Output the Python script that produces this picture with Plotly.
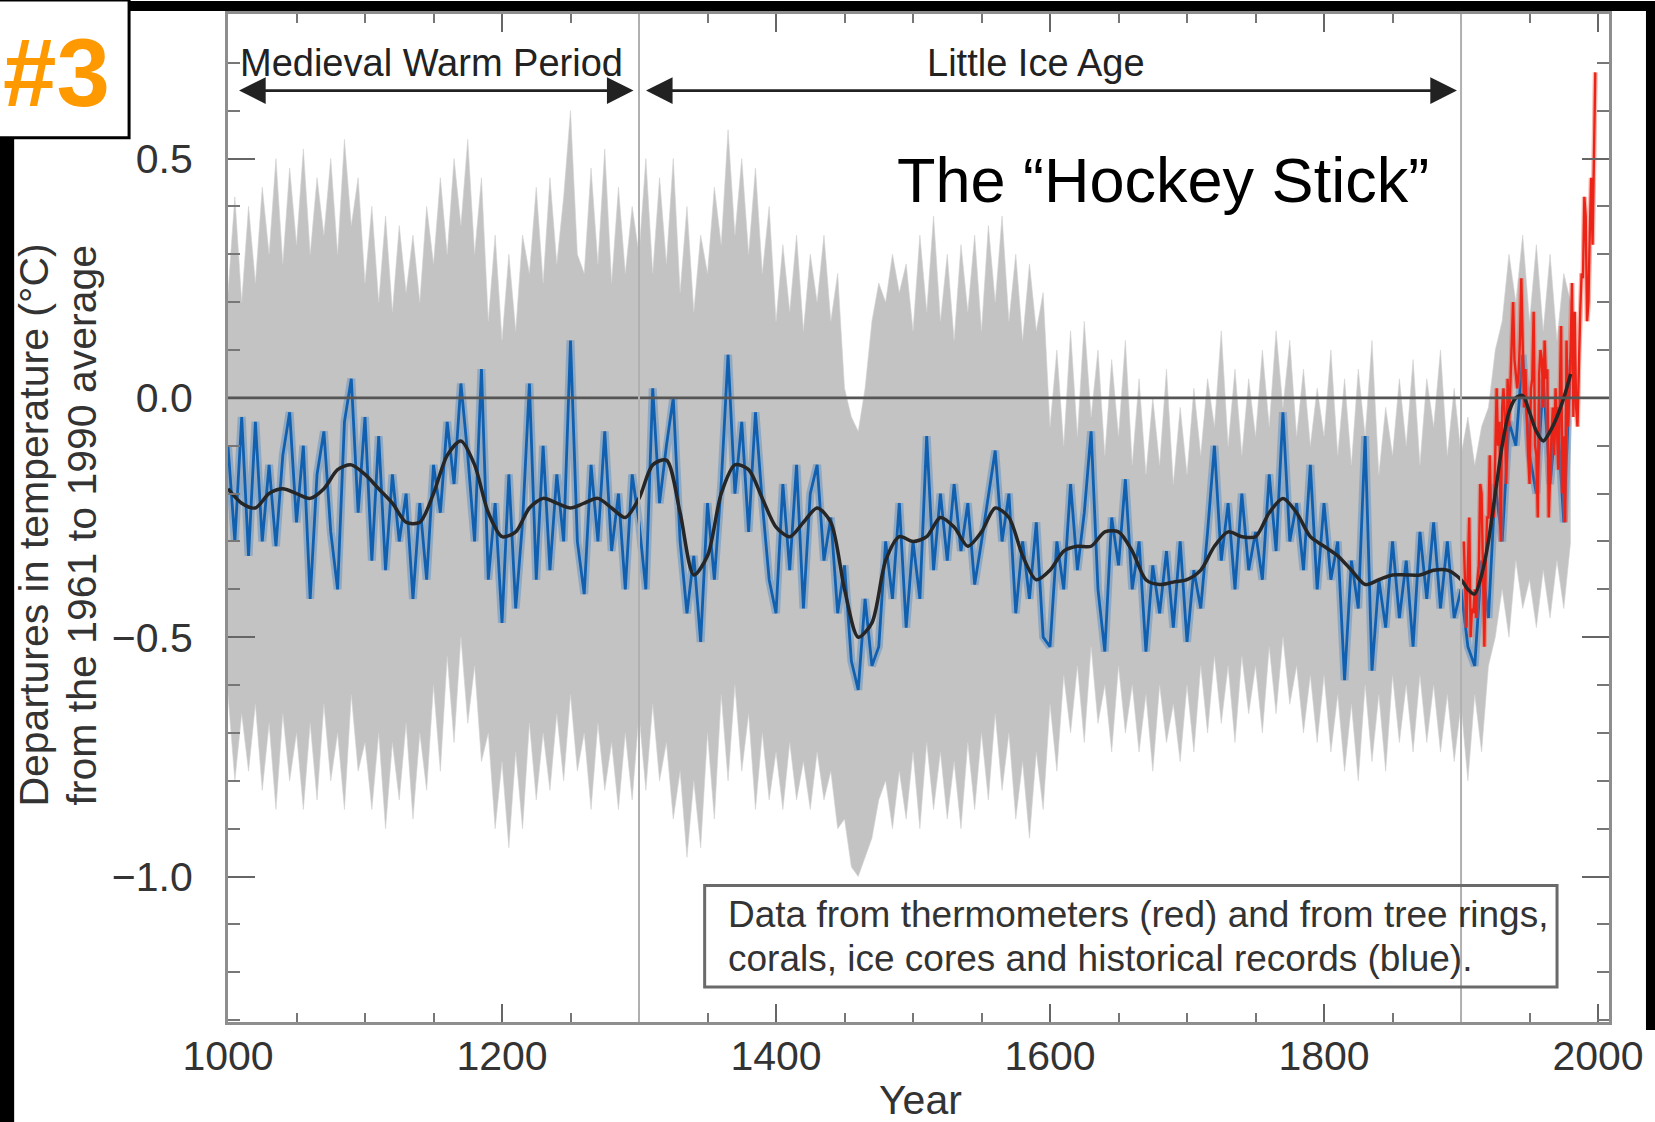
import plotly.graph_objects as go

# ---------------------------------------------------------------------------
# Data: northern-hemisphere temperature departures (deg C, vs 1961-1990 mean)
# ---------------------------------------------------------------------------
years5 = list(range(1000, 1981, 5))

# proxy reconstruction (tree rings, corals, ice cores, historical records)
proxy = [
    -0.10, -0.30, -0.04, -0.33, -0.05, -0.30, -0.14, -0.31, -0.12, -0.03,
    -0.26, -0.10, -0.42, -0.16, -0.07, -0.28, -0.40, -0.05, 0.04, -0.24,
    -0.04, -0.34, -0.08, -0.36, -0.16, -0.30, -0.20, -0.42, -0.22, -0.38,
    -0.14, -0.24, -0.05, -0.18, 0.03, -0.12, -0.30, 0.06, -0.38, -0.22,
    -0.47, -0.16, -0.44, -0.26, 0.03, -0.38, -0.10, -0.36, -0.16, -0.30,
    0.12, -0.30, -0.41, -0.14, -0.30, -0.07, -0.32, -0.20, -0.40, -0.16,
    -0.26, -0.40, 0.02, -0.22, -0.10, 0.00, -0.30, -0.45, -0.33, -0.51,
    -0.22, -0.38, -0.18, 0.09, -0.20, -0.05, -0.28, -0.03, -0.22, -0.38,
    -0.45, -0.18, -0.36, -0.14, -0.44, -0.20, -0.14, -0.34, -0.25, -0.45,
    -0.35, -0.55, -0.61, -0.42, -0.56, -0.52, -0.30, -0.42, -0.22, -0.48,
    -0.30, -0.42, -0.08, -0.36, -0.20, -0.34, -0.18, -0.32, -0.22, -0.39,
    -0.30, -0.20, -0.11, -0.30, -0.20, -0.45, -0.30, -0.42, -0.26, -0.50,
    -0.52, -0.30, -0.40, -0.18, -0.36, -0.24, -0.07, -0.40, -0.53, -0.25,
    -0.35, -0.17, -0.40, -0.30, -0.53, -0.35, -0.45, -0.32, -0.48, -0.30,
    -0.51, -0.36, -0.44, -0.28, -0.10, -0.34, -0.22, -0.40, -0.20, -0.36,
    -0.28, -0.38, -0.16, -0.32, -0.03, -0.30, -0.22, -0.36, -0.14, -0.40,
    -0.22, -0.38, -0.30, -0.59, -0.34, -0.44, -0.08, -0.57, -0.38, -0.48,
    -0.30, -0.46, -0.34, -0.52, -0.28, -0.42, -0.26, -0.44, -0.30, -0.46,
    -0.40, -0.52, -0.56, -0.34, -0.46, -0.18, -0.30, -0.05, -0.10, 0.09,
    -0.12, -0.20, 0.04, -0.18, -0.02, -0.26, 0.08,
]

# upper / lower limits of the uncertainty range
band_hi = [
    0.22, 0.42, 0.20, 0.40, 0.24, 0.44, 0.30, 0.50, 0.28, 0.48,
    0.32, 0.52, 0.30, 0.46, 0.34, 0.50, 0.30, 0.54, 0.36, 0.46,
    0.24, 0.40, 0.20, 0.38, 0.18, 0.36, 0.22, 0.34, 0.20, 0.40,
    0.28, 0.46, 0.30, 0.50, 0.36, 0.54, 0.30, 0.46, 0.16, 0.34,
    0.12, 0.30, 0.14, 0.34, 0.26, 0.44, 0.24, 0.46, 0.28, 0.42,
    0.60, 0.30, 0.26, 0.48, 0.28, 0.52, 0.24, 0.44, 0.26, 0.40,
    0.30, 0.50, 0.26, 0.46, 0.28, 0.50, 0.22, 0.40, 0.18, 0.34,
    0.26, 0.44, 0.32, 0.56, 0.34, 0.50, 0.30, 0.48, 0.26, 0.40,
    0.16, 0.32, 0.18, 0.34, 0.14, 0.30, 0.20, 0.34, 0.16, 0.26,
    0.02, -0.04, -0.07, 0.02, 0.16, 0.24, 0.20, 0.30, 0.22, 0.28,
    0.14, 0.34, 0.18, 0.38, 0.16, 0.30, 0.12, 0.32, 0.18, 0.34,
    0.14, 0.36, 0.20, 0.38, 0.16, 0.30, 0.12, 0.28, 0.14, 0.22,
    -0.06, 0.10, -0.10, 0.14, -0.08, 0.16, -0.04, 0.10, -0.12, 0.08,
    -0.08, 0.12, -0.14, 0.04, -0.16, 0.00, -0.14, 0.06, -0.18, -0.02,
    -0.16, 0.02, -0.12, 0.04, -0.06, 0.14, -0.10, 0.06, -0.12, 0.04,
    -0.08, 0.10, -0.06, 0.14, -0.02, 0.12, -0.08, 0.06, -0.10, 0.02,
    -0.08, 0.10, -0.12, 0.04, -0.14, 0.06, -0.08, 0.12, -0.16, -0.02,
    -0.12, 0.04, -0.10, 0.08, -0.14, 0.04, -0.06, 0.10, -0.12, 0.02,
    -0.12, -0.04, -0.14, -0.06, -0.02, 0.10, 0.16, 0.30, 0.20, 0.34,
    0.16, 0.32, 0.14, 0.30, 0.12, 0.26, 0.20,
]
band_lo = [
    -0.62, -0.80, -0.66, -0.78, -0.64, -0.82, -0.68, -0.86, -0.66, -0.80,
    -0.70, -0.86, -0.68, -0.84, -0.64, -0.80, -0.70, -0.86, -0.62, -0.78,
    -0.72, -0.86, -0.70, -0.90, -0.72, -0.84, -0.68, -0.88, -0.70, -0.82,
    -0.60, -0.78, -0.54, -0.72, -0.50, -0.68, -0.56, -0.76, -0.70, -0.90,
    -0.76, -0.94, -0.74, -0.90, -0.68, -0.84, -0.70, -0.82, -0.66, -0.80,
    -0.62, -0.78, -0.70, -0.86, -0.68, -0.82, -0.72, -0.86, -0.70, -0.84,
    -0.66, -0.82, -0.64, -0.80, -0.72, -0.88, -0.78, -0.96, -0.80, -0.94,
    -0.70, -0.88, -0.62, -0.80, -0.60, -0.78, -0.66, -0.86, -0.70, -0.84,
    -0.74, -0.86, -0.72, -0.84, -0.76, -0.86, -0.74, -0.84, -0.78, -0.90,
    -0.88, -0.98, -1.00, -0.96, -0.92, -0.84, -0.80, -0.90, -0.78, -0.88,
    -0.74, -0.90, -0.72, -0.86, -0.74, -0.88, -0.76, -0.90, -0.72, -0.86,
    -0.70, -0.84, -0.66, -0.82, -0.70, -0.88, -0.76, -0.92, -0.74, -0.86,
    -0.64, -0.78, -0.58, -0.70, -0.56, -0.72, -0.52, -0.68, -0.60, -0.74,
    -0.56, -0.70, -0.60, -0.74, -0.62, -0.78, -0.60, -0.72, -0.64, -0.76,
    -0.60, -0.74, -0.56, -0.70, -0.54, -0.68, -0.56, -0.72, -0.54, -0.66,
    -0.56, -0.70, -0.52, -0.66, -0.50, -0.64, -0.56, -0.70, -0.58, -0.72,
    -0.58, -0.74, -0.62, -0.78, -0.64, -0.80, -0.60, -0.76, -0.62, -0.78,
    -0.58, -0.72, -0.60, -0.74, -0.58, -0.72, -0.60, -0.74, -0.62, -0.76,
    -0.64, -0.80, -0.62, -0.74, -0.56, -0.50, -0.40, -0.50, -0.34, -0.44,
    -0.38, -0.48, -0.36, -0.46, -0.34, -0.44, -0.30,
]

# 40-year smoothed reconstruction
smooth_years = list(range(1000, 1900, 10)) + list(range(1900, 1981, 5))
smooth = [
    -0.19, -0.22, -0.23, -0.20, -0.19, -0.20, -0.21, -0.19, -0.15, -0.14,
    -0.16, -0.19, -0.22, -0.26, -0.26, -0.20, -0.12, -0.09, -0.14, -0.24,
    -0.29, -0.28, -0.23, -0.21, -0.22, -0.23, -0.22, -0.21, -0.23, -0.25,
    -0.21, -0.14, -0.13, -0.24, -0.37, -0.33, -0.20, -0.14, -0.15, -0.21,
    -0.27, -0.29, -0.26, -0.23, -0.26, -0.40, -0.50, -0.47, -0.34, -0.29,
    -0.30, -0.29, -0.25, -0.27, -0.31, -0.28, -0.23, -0.25, -0.33, -0.38,
    -0.36, -0.32, -0.31, -0.31, -0.28, -0.28, -0.32, -0.38, -0.39, -0.385,
    -0.38, -0.36, -0.31, -0.28, -0.29, -0.29, -0.24, -0.21, -0.24, -0.29,
    -0.31, -0.33, -0.36, -0.39, -0.38, -0.37, -0.37, -0.37, -0.36, -0.36,
    -0.38, -0.40, -0.41, -0.37, -0.30, -0.20, -0.10, -0.03, 0.00, 0.005,
    -0.03, -0.07, -0.09, -0.07, -0.04, 0.00, 0.05,
]

# thermometer record
instr_years = list(range(1902, 1999))
instr = [
    -0.30, -0.42, -0.48, -0.35, -0.25, -0.50, -0.44, -0.45, -0.40, -0.46,
    -0.38, -0.35, -0.18, -0.20, -0.38, -0.52, -0.35, -0.25, -0.25, -0.12,
    -0.26, -0.22, -0.25, -0.12, 0.02, -0.10, -0.05, -0.30, -0.02, 0.02,
    -0.04, -0.18, 0.04, -0.06, 0.02, 0.12, 0.20, 0.08, 0.05, 0.02,
    0.05, 0.12, 0.25, 0.08, -0.02, 0.06, -0.05, -0.12, -0.18, 0.02,
    0.04, 0.18, -0.10, -0.12, -0.25, 0.05, 0.10, 0.08, -0.02, 0.12,
    0.04, 0.06, -0.25, -0.15, -0.08, -0.02, -0.12, 0.02, -0.05, -0.15,
    -0.02, 0.15, -0.20, -0.08, -0.26, 0.12, -0.06, 0.02, 0.10, 0.24,
    -0.04, 0.18, -0.02, -0.06, 0.08, 0.18, 0.26, 0.25, 0.42, 0.38,
    0.16, 0.20, 0.35, 0.46, 0.32, 0.52, 0.68,
]

# period markers
periods = [("Medieval Warm Period", 1007, 1296), ("Little Ice Age", 1304, 1897)]
period_lines = [1300, 1900]

# ---------------------------------------------------------------------------
# Canvas geometry (pixels)
# ---------------------------------------------------------------------------
W, H = 1655, 1122
ML, MR, MT, MB = 228, 45, 11, 100
PW, PH = W - ML - MR, H - MT - MB


def px_x(px):
    return (px - ML) / PW


def px_y(py):
    return (H - MB - py) / PH


FONT = "Liberation Sans, Arial, Helvetica, sans-serif"

fig = go.Figure()

# uncertainty range
fig.add_trace(go.Scatter(x=years5, y=band_lo, mode="lines",
                         line=dict(width=0.6, color="#d2d2d2"),
                         hoverinfo="skip", showlegend=False))
fig.add_trace(go.Scatter(x=years5, y=band_hi, mode="lines",
                         line=dict(width=0.6, color="#d2d2d2"),
                         fill="tonexty", fillcolor="#c3c3c3",
                         hoverinfo="skip", showlegend=False))
# proxy series: soft halo under a darker core
fig.add_trace(go.Scatter(x=years5, y=proxy, mode="lines",
                         line=dict(width=8, color="rgba(60,125,195,0.38)"),
                         hoverinfo="skip", showlegend=False))
fig.add_trace(go.Scatter(x=years5, y=proxy, mode="lines",
                         line=dict(width=2.8, color="#1160b0"),
                         showlegend=False))
# thermometer series
fig.add_trace(go.Scatter(x=instr_years, y=instr, mode="lines",
                         line=dict(width=5, color="rgba(240,90,70,0.45)"),
                         hoverinfo="skip", showlegend=False))
fig.add_trace(go.Scatter(x=instr_years, y=instr, mode="lines",
                         line=dict(width=2.4, color="#ec2418"),
                         showlegend=False))
# smoothed curve
fig.add_trace(go.Scatter(x=smooth_years, y=smooth, mode="lines",
                         line=dict(width=3.5, color="#262626", shape="spline",
                                   smoothing=0.8),
                         showlegend=False))

axis_common = dict(
    showline=True, linecolor="#8e8e8e", linewidth=3, mirror="allticks",
    ticks="inside", tickwidth=2, tickcolor="#666666",
    showgrid=False, zeroline=False,
    tickfont=dict(family=FONT, size=41, color="#333333"),
)
fig.update_xaxes(range=[1000, 2008], tickmode="linear", tick0=1000, dtick=200,
                 ticklen=18, ticklabelstandoff=-4,
                 minor=dict(tickmode="linear", tick0=1000, dtick=50,
                            ticks="inside", ticklen=9, tickwidth=2,
                            tickcolor="#777777"),
                 **axis_common)
fig.update_yaxes(range=[-1.304, 0.802], tickmode="linear", tick0=0, dtick=0.5,
                 tickformat=".1f", ticklen=27, ticklabelstandoff=24,
                 minor=dict(tickmode="linear", tick0=0, dtick=0.1,
                            ticks="inside", ticklen=12, tickwidth=2,
                            tickcolor="#777777"),
                 **axis_common)

shapes = []
# zero reference line
shapes.append(dict(type="line", xref="paper", yref="y", x0=0, x1=1, y0=0, y1=0,
                   line=dict(color="#555555", width=2.8), layer="above"))
# period boundaries
for yr in period_lines:
    shapes.append(dict(type="line", xref="x", yref="paper", x0=yr, x1=yr,
                       y0=0, y1=1, line=dict(color="#b0b0b0", width=2),
                       layer="above"))
# caption frame
shapes.append(dict(type="rect", xref="paper", yref="paper",
                   x0=px_x(705), x1=px_x(1558), y0=px_y(987), y1=px_y(885),
                   line=dict(color="#6a6a6a", width=3),
                   fillcolor="rgba(0,0,0,0)", layer="above"))
# page border strips and badge
black = dict(color="black", width=0)
shapes.append(dict(type="rect", xref="paper", yref="paper",
                   x0=px_x(129), x1=px_x(W + 2), y0=px_y(8), y1=px_y(-2),
                   fillcolor="black", line=black, layer="above"))
shapes.append(dict(type="rect", xref="paper", yref="paper",
                   x0=px_x(-2), x1=px_x(14), y0=px_y(H + 2), y1=px_y(135),
                   fillcolor="black", line=black, layer="above"))
shapes.append(dict(type="rect", xref="paper", yref="paper",
                   x0=px_x(1647), x1=px_x(W + 2), y0=px_y(1030), y1=px_y(-2),
                   fillcolor="black", line=black, layer="above"))
shapes.append(dict(type="rect", xref="paper", yref="paper",
                   x0=px_x(-3), x1=px_x(129), y0=px_y(135), y1=px_y(-3),
                   fillcolor="white", line=dict(color="black", width=3),
                   layer="above"))

annotations = []


def label(text, x, y, size, color="#222222", xanchor="center", angle=0):
    annotations.append(dict(text=text, x=px_x(x), y=px_y(y), xref="paper",
                            yref="paper", xanchor=xanchor, yanchor="middle",
                            showarrow=False, textangle=angle,
                            font=dict(family=FONT, size=size, color=color)))


label("<b>#3</b>", 56, 70, 96, color="#FF9900")
label("Medieval Warm Period", 238, 60, 38, xanchor="left")
label("Little Ice Age", 1037, 60, 38)
label("The \u201cHockey Stick\u201d", 895, 177, 63, color="#000000", xanchor="left")
label("Data from thermometers (red) and from tree rings,", 726, 914, 37,
      color="#333333", xanchor="left")
label("corals, ice cores and historical records (blue).", 726, 958, 37,
      color="#333333", xanchor="left")
label("Departures in temperature (\u00b0C)", 34, 524, 41, color="#333333", angle=-90)
label("from the 1961 to 1990 average", 82, 524, 41, color="#333333", angle=-90)
label("Year", 921, 1100, 41, color="#333333")

arrow_y = 0.642
for _, start, end in periods:
    annotations.append(dict(x=end, y=arrow_y, ax=start, ay=arrow_y,
                            xref="x", yref="y", axref="x", ayref="y",
                            text="", showarrow=True, arrowside="end+start",
                            arrowhead=2, startarrowhead=2,
                            arrowsize=1.9, startarrowsize=1.9,
                            arrowwidth=2.8, arrowcolor="#222222",
                            standoff=0, startstandoff=0))

fig.update_layout(
    width=W, height=H, autosize=False,
    margin=dict(l=ML, r=MR, t=MT, b=MB, pad=0),
    paper_bgcolor="white", plot_bgcolor="white",
    showlegend=False, hovermode=False,
    font=dict(family=FONT, color="#333333"),
    shapes=shapes, annotations=annotations,
)

fig.write_html("out.html")
